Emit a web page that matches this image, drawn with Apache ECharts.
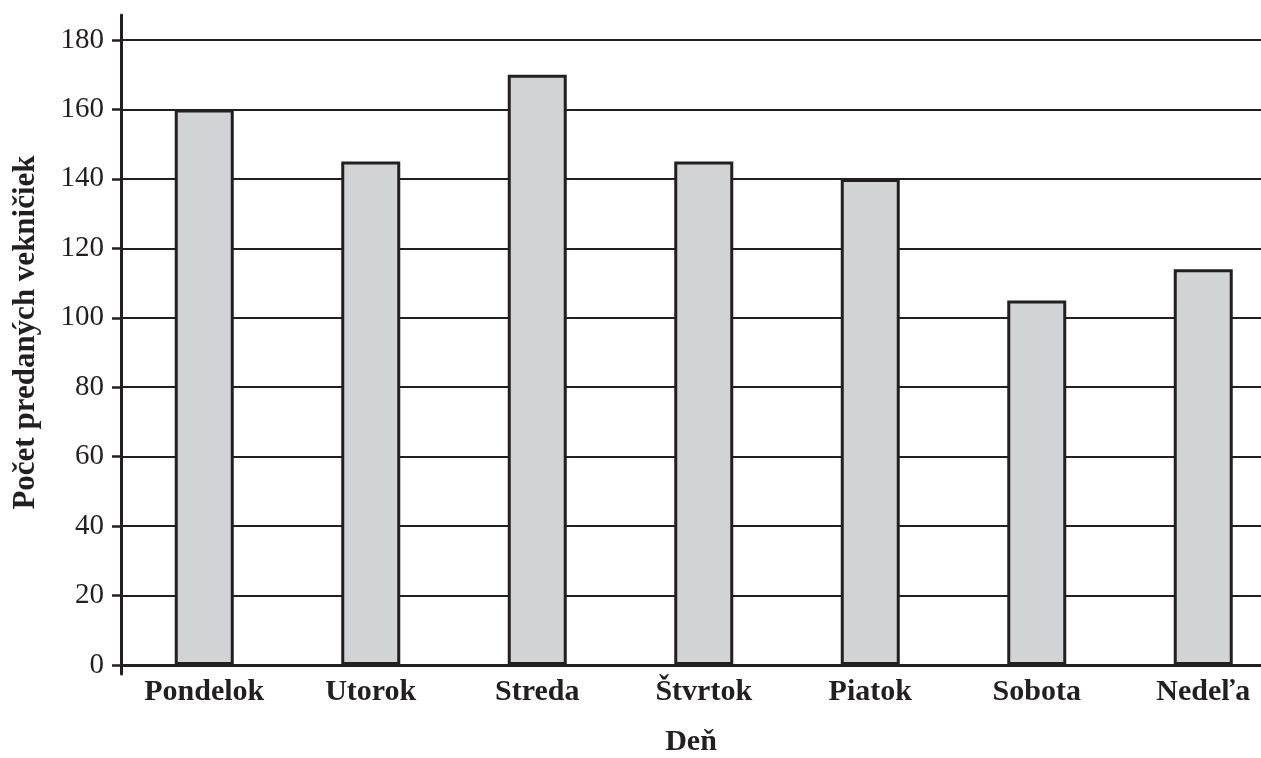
<!DOCTYPE html>
<html>
<head>
<meta charset="utf-8">
<script src="https://cdn.jsdelivr.net/npm/echarts@6/dist/echarts.min.js"></script>
<style>
html,body{margin:0;padding:0;background:#fff;}
#chart{width:1261px;height:758px;}
</style>
</head>
<body>
<div id="chart"></div>
<script>
var categories = ['Pondelok', 'Utorok', 'Streda', 'Štvrtok', 'Piatok', 'Sobota', 'Nedeľa'];
var values = [160, 145, 170, 145, 140, 105, 114];
var yTickValues = [0, 20, 40, 60, 80, 100, 120, 140, 160, 180];
var yAxisName = 'Počet predaných vekničiek';
var xAxisName = 'Deň';

var ink = '#231f20';
var font = 'Liberation Serif';
var chart = echarts.init(document.getElementById('chart'), null, {renderer: 'canvas'});
chart.setOption({
  backgroundColor: '#ffffff',
  animation: false,
  grid: [
    {left: 121, top: 40, bottom: 93, width: 1165.5, outerBoundsMode: 'none', containLabel: false},
    {left: 121, top: 15, bottom: 84, right: 0, outerBoundsMode: 'none', containLabel: false}
  ],
  xAxis: [
    {
      type: 'category', gridIndex: 0, data: categories,
      axisLine: {show: true, lineStyle: {color: ink, width: 3}},
      axisTick: {show: false},
      splitLine: {show: false},
      axisLabel: {color: ink, fontFamily: font, fontWeight: 'bold', fontSize: 30, margin: 12}
    },
    {
      type: 'value', gridIndex: 1, min: 0, max: 1,
      axisLine: {show: false}, axisTick: {show: false}, axisLabel: {show: false}, splitLine: {show: false},
      name: xAxisName, nameLocation: 'middle', nameGap: 53,
      nameTextStyle: {color: ink, fontFamily: font, fontWeight: 'bold', fontSize: 30}
    }
  ],
  yAxis: [
    {
      type: 'value', gridIndex: 0, min: yTickValues[0], max: yTickValues[yTickValues.length - 1], interval: yTickValues[1] - yTickValues[0],
      axisLine: {show: false},
      axisTick: {show: true, length: 9, lineStyle: {color: ink, width: 2.5}},
      splitLine: {show: true, lineStyle: {color: ink, width: 2}},
      axisLabel: {color: ink, fontFamily: font, fontSize: 29, margin: 17}
    },
    {
      type: 'value', gridIndex: 1, min: 0, max: 1,
      axisLine: {show: true, lineStyle: {color: ink, width: 3}},
      axisTick: {show: false}, axisLabel: {show: false}, splitLine: {show: false},
      name: yAxisName, nameLocation: 'middle', nameGap: 80,
      nameTextStyle: {color: ink, fontFamily: font, fontWeight: 'bold', fontSize: 31, padding: [0, 0, 0, 24]}
    }
  ],
  series: [{
    type: 'bar', xAxisIndex: 0, yAxisIndex: 0,
    data: values,
    barWidth: 59,
    itemStyle: {color: '#d1d3d4', borderColor: ink, borderWidth: 3}
  }]
});
</script>
</body>
</html>
